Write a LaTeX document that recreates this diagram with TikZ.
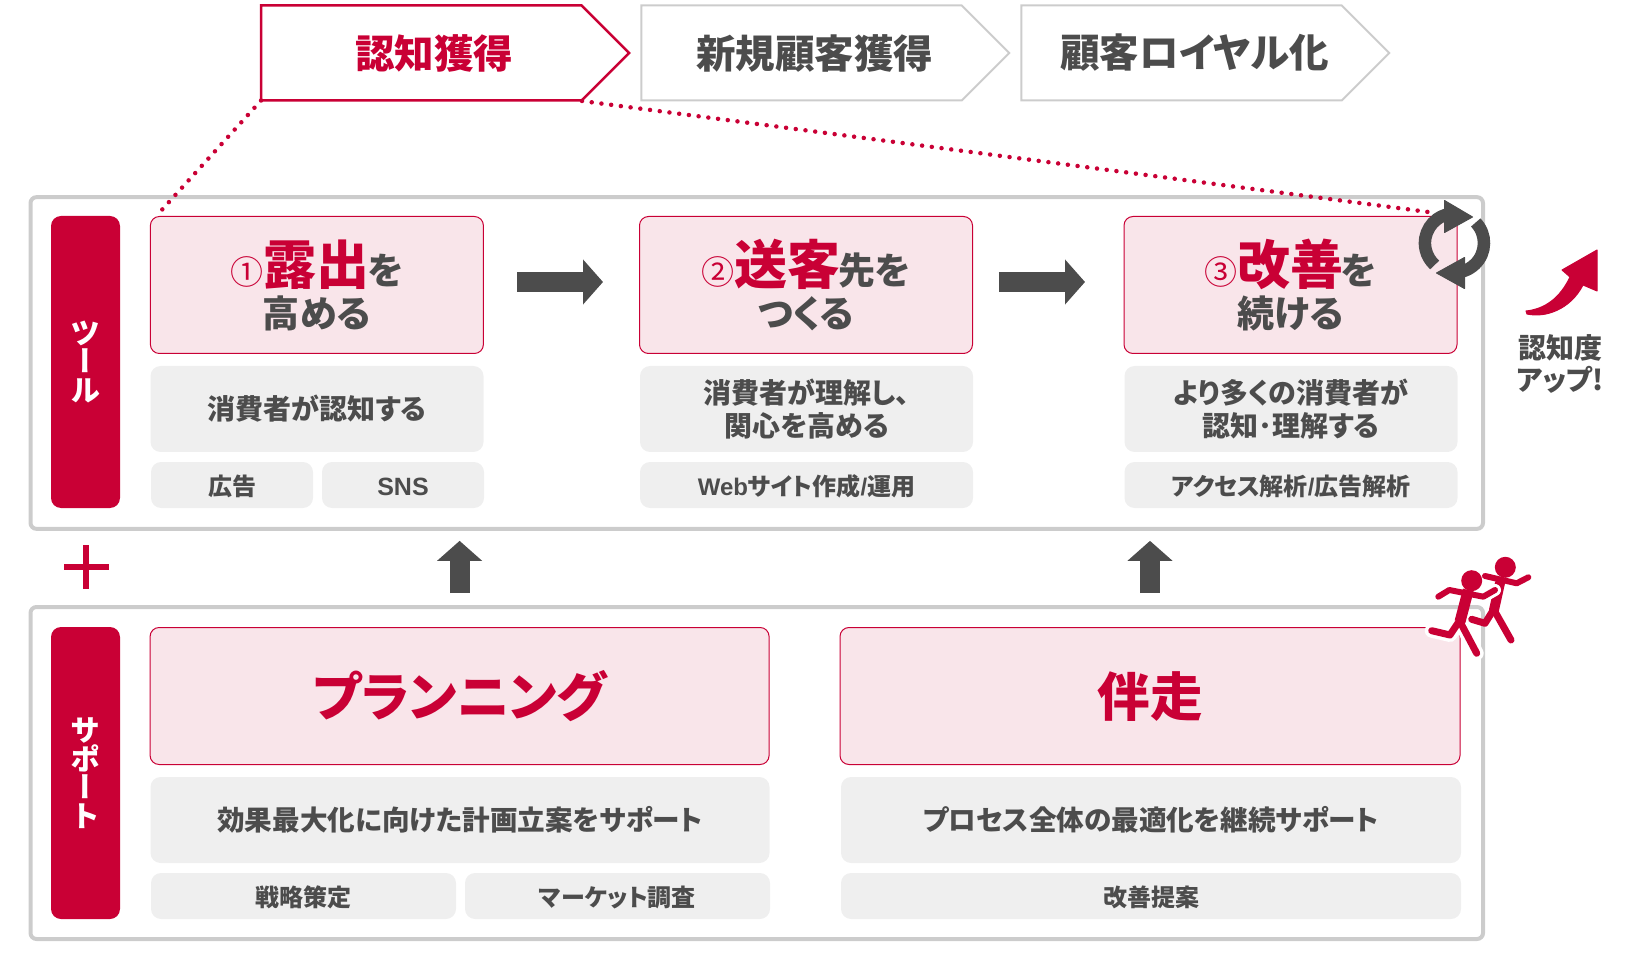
\documentclass[tikz,border=0pt]{standalone}
\usepackage{fontspec}
\setmainfont[RawFeature=+palt]{Noto Sans CJK JP}
\newfontfamily\vertfont[RawFeature=+vert]{Noto Sans CJK JP}
\newfontfamily\latf{Liberation Sans}
\usetikzlibrary{arrows.meta,shapes.symbols}
\definecolor{myred}{HTML}{C90035}
\definecolor{mydark}{HTML}{4C4C4C}
\definecolor{mypink}{HTML}{F9E5EA}
\definecolor{mygrey}{HTML}{EFEFEF}
\definecolor{myline}{HTML}{CCCCCC}
\newcommand{\hi}[1]{{\fontsize{53}{48}\selectfont\color{myred}\rule{0pt}{45pt}#1}\kern-2pt}
\newcommand{\num}[1]{{\fontsize{33}{48}\selectfont\mdseries\color{myred}#1}}

\begin{document}
\begin{tikzpicture}[x=1pt,y=-1pt]
	\tikzset{every node/.append style={inner sep=0pt,outer sep=0pt,align=center,font=\bfseries}}
	\tikzset{outerbox/.style={draw=myline,line width=4pt,rounded corners=6pt}}
	\tikzset{tab/.style={fill=myred,text=white,rounded corners=10pt,minimum width=69pt,minimum height=292pt,font=\vertfont\bfseries\fontsize{30}{28.5}\selectfont}}
	\tikzset{pinkbox/.style={draw=myred,fill=mypink,line width=1pt,rounded corners=9pt,minimum height=137pt,text=mydark,font=\bfseries\fontsize{37}{43}\selectfont}}
	\tikzset{bigtext/.style={text=myred,text height=40pt,text depth=0pt,font=\bfseries\fontsize{52.5}{52.5}\selectfont}}
	\tikzset{greybox/.style={fill=mygrey,rounded corners=10pt,minimum height=86pt,text=mydark,font=\bfseries\fontsize{28}{33}\selectfont}}
	\tikzset{widetext/.style={font=\bfseries\fontsize{27.6}{33}\selectfont}}
	\tikzset{smallbox/.style={fill=mygrey,rounded corners=10pt,minimum height=46pt,text height=21pt,text depth=0pt,text=mydark,font=\bfseries\fontsize{24}{24}\selectfont}}
	\tikzset{chevron/.style={shape=signal,signal to=east,signal pointer angle=90,draw=myline,line width=2pt,minimum width=368pt,minimum height=95pt,text=mydark,font=\bfseries\fontsize{39.5}{39.5}\selectfont,execute at begin node=\hspace*{26pt}}}
	\tikzset{bigarrow/.style={draw,mydark,line width=20pt,-{Triangle[length=20pt,width=44pt]}}}
	\tikzset{dots/.style={myred,line width=4.5pt,line cap=round,dash pattern=on 0pt off 9.8pt}}
	\tikzset{cyc/.style={mydark,line width=12.5pt}}
	\tikzset{limb/.style={myred,line width=7pt,line cap=round,line join=round}}
	\useasboundingbox (0,0) rectangle (1647,957);

	% steps on top
	\node[chevron,draw=myred,text=myred,line width=2.5pt] (c1) at (421.3,53) {認知獲得};
	\node[chevron] (c2) at (801.5,53) {新規顧客獲得};
	\node[chevron] (c3) at (1181.5,53) {顧客ロイヤル化};

	% frames
	\node[outerbox,minimum width=1452.5pt,minimum height=331.7pt] (b1) at (756.75,363) {};
	\node[outerbox,minimum width=1452.5pt,minimum height=332pt] (b2) at (756.75,773) {};
	\node[tab] (t1) at (85.5,362) {ツ\\ー\\ル};
	\node[tab] (t2) at (85.5,773) {サ\\ポ\\ー\\ト};

	% upper row
	\node[pinkbox,minimum width=333pt] (p1) at (316.9,285) {\num{①}\hi{露出}を\\高める};
	\node[pinkbox,minimum width=333pt] (p2) at (806,285) {\num{②}\hi{送客}先を\\つくる};
	\node[pinkbox,minimum width=333pt] (p3) at (1290.5,285) {\num{③}\hi{改善}を\\続ける};
	\node[greybox,minimum width=333pt] (g1) at (317,409) {消費者が認知する};
	\node[greybox,minimum width=333pt] (g2) at (806.5,409) {消費者が理解し、\\関心を高める};
	\node[greybox,minimum width=333pt] (g3) at (1291,409) {より多くの消費者が\\認知･理解する};
	\node[smallbox,minimum width=162pt] (s1) at (232,485) {広告};
	\node[smallbox,minimum width=162pt] (s2) at (403,485) {{\latf\fontsize{25}{25}\selectfont SNS}};
	\node[smallbox,minimum width=333pt] (s3) at (806.5,485) {{\latf Web}サイト作成{\latf /}運用};
	\node[smallbox,minimum width=333pt] (s4) at (1291,485) {アクセス解析{\latf /}広告解析};

	% lower row
	\node[pinkbox,minimum width=619pt,bigtext] (p4) at (459.6,696) {プランニング};
	\node[pinkbox,minimum width=620pt,bigtext] (p5) at (1150,696) {伴走};
	\node[greybox,minimum width=619pt,widetext] (g4) at (460,820) {効果最大化に向けた計画立案をサポート};
	\node[greybox,minimum width=620pt,widetext] (g5) at (1151,820) {プロセス全体の最適化を継続サポート};
	\node[smallbox,minimum width=305pt] (s5) at (303.5,896) {戦略策定};
	\node[smallbox,minimum width=305pt] (s6) at (617.5,896) {マーケット調査};
	\node[smallbox,minimum width=620pt] (s7) at (1151,896) {改善提案};

	\node[text=mydark,font=\bfseries\fontsize{28}{32}\selectfont] (up) at (1560,364) {認知度\\アップ!};

	% plus
	\node[fill=myred,minimum width=45pt,minimum height=6pt] (plush) at (86,567) {};
	\node[fill=myred,minimum width=5.5pt,minimum height=44pt] (plusv) at (86,567) {};

	% arrows
	\path
		([yshift=3pt]p1.east) edge [bigarrow,shorten <=33.6pt,shorten >=36.5pt] ([yshift=3pt]p2.west)
		([yshift=3pt]p2.east) edge [bigarrow,shorten <=26.3pt,shorten >=39pt] ([yshift=3pt]p3.west)
		(p4.north) edge [bigarrow,shorten <=34.3pt,shorten >=12pt] (p4.north |- b1.south)
		(p5.north) edge [bigarrow,shorten <=34.3pt,shorten >=12pt] (p5.north |- b1.south);

	% dotted lines
	\coordinate (n1) at (582,101);
	\draw[dots] (c1.south west) -- ([shift={(10pt,5pt)}]p1.north west);
	\draw[dots] (n1) -- ([shift={(-21pt,3.5pt)}]p3.north east);

	% cycle icon
	\draw[cyc] (1447.8,214.3) arc[start angle=103,end angle=228,radius=29.5pt];
	\draw[cyc] (1475.7,222.5) arc[start angle=44,end angle=-75,radius=29.5pt];
	\fill[mydark,draw=mydark,line width=1pt,line join=round] (1472.5,217) -- (1444.5,200.5) -- (1444.5,232.5) -- cycle;
	\fill[mydark,draw=mydark,line width=1pt,line join=round] (1436.5,273) -- (1464.5,257.5) -- (1464.5,288.5) -- cycle;

	% rising arrow
	\fill[myred,draw=myred,line width=1pt,line join=round] (1526,311) .. controls (1545,309) and (1560,298) .. (1570,277) -- (1562,270) -- (1597,250) -- (1597,291) -- (1583,285) .. controls (1570,310) and (1545,318) .. (1527,314) -- cycle;

	% runners
	\fill[myred] (1505.3,567.3) circle (10.5pt);
	\draw[limb,line width=6pt] (1485,576) -- (1516.7,583.3) -- (1528.3,577.3);
	\draw[limb,line width=10pt] (1500,583) -- (1494,610);
	\draw[limb] (1493.3,610) -- (1485,623.3) -- (1471.7,619.3);
	\draw[limb] (1495,611.7) -- (1511,640);
	\draw[limb,white,line width=12pt] (1438.3,596.7) -- (1449.3,590) -- (1483.3,596.7) -- (1495,590);
	\draw[limb,white,line width=14pt] (1460,620) -- (1450,635) -- (1431.7,630.7);
	\draw[limb,white,line width=14pt] (1460,621.7) -- (1476.7,653.3);
	\draw[limb,line width=6pt] (1438.3,596.7) -- (1449.3,590) -- (1483.3,596.7) -- (1495,590);
	\fill[myred] (1471.7,580.7) circle (10.5pt);
	\draw[limb,line width=11pt,line cap=butt] (1468.3,590) -- (1460,621.7);
	\draw[limb] (1460,620) -- (1450,635) -- (1431.7,630.7);
	\draw[limb] (1460,621.7) -- (1476.7,653.3);
\end{tikzpicture}
\end{document}
